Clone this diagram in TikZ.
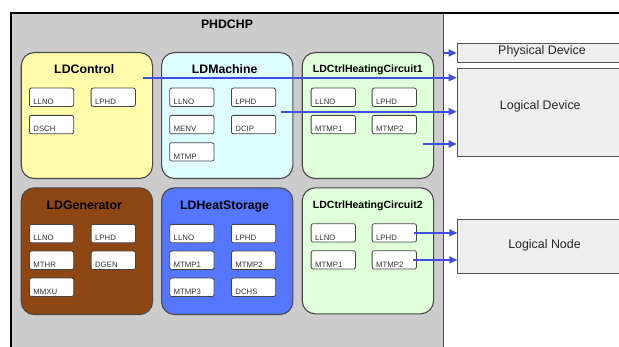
\documentclass[tikz,border=0pt]{standalone}
\usepackage{fontspec}
\setmainfont{Liberation Sans}
\usetikzlibrary{arrows.meta,calc}
\definecolor{bggray}{HTML}{CCCCCC}
\definecolor{cborder}{HTML}{4A4A4A}
\definecolor{sborder}{HTML}{444444}
\definecolor{stext}{HTML}{333333}
\definecolor{cyellow}{HTML}{FFFCAA}
\definecolor{ccyan}{HTML}{DDFDFF}
\definecolor{cgreen}{HTML}{DFFFD9}
\definecolor{cbrown}{HTML}{8E4612}
\definecolor{cblue}{HTML}{5577FF}
\definecolor{rfill}{HTML}{EEEEEE}
\definecolor{rborder}{HTML}{555555}
\definecolor{arrowblue}{HTML}{3F4FE6}
\begin{document}
\begin{tikzpicture}[x=1pt,y=-1pt,
  cont/.style={anchor=north west, draw=cborder, line width=1.1pt, rounded corners=13pt,
    minimum width=131.3pt, minimum height=126pt, inner sep=0pt},
  ctitle/.style={anchor=base, font=\fontsize{12.3}{14}\selectfont\bfseries},
  cstitle/.style={anchor=base, font=\fontsize{10.5}{12}\selectfont\bfseries},
  small/.style={anchor=north west, draw=sborder, line width=0.8pt, fill=white,
    rounded corners=2pt, inner xsep=4pt, inner ysep=0pt, text width=36.3pt, align=left,
    text height=16.4pt, text depth=2pt, text=stext, font=\fontsize{7.8}{8}\selectfont},
  rbox/.style={anchor=north west, draw=rborder, line width=1pt, fill=rfill,
    inner sep=0pt, minimum width=180pt},
  rtext/.style={anchor=base, text=black!85, font=\fontsize{12.4}{14}\selectfont},
  arr/.style={-{Triangle[length=8pt,width=7pt]}, color=arrowblue, line width=1.7pt}
]
\useasboundingbox (0,0) rectangle (619,347);
\begin{scope}
\clip (0,0) rectangle (619,347);
% outer PHDCHP box
\node[anchor=north west, fill=bggray, draw=cborder, line width=1.2pt,
  minimum width=432pt, minimum height=360pt, inner sep=0pt] (phd) at (11,13) {};
\coordinate (topright) at (625,13);
\draw[line width=2pt, black] (phd.south west) -- (phd.north west) -- (topright);
\node[ctitle] (phdt) at (227,28.3) {PHDCHP};

% containers
\node[cont, fill=cyellow] (ca) at (20.7,52) {};
\node[cont, fill=ccyan] (cb) at (161,52) {};
\node[cont, fill=cgreen] (cc) at (301.7,52) {};
\node[cont, fill=cbrown, minimum height=126.7pt] (cd) at (20.7,187.3) {};
\node[cont, fill=cblue, minimum height=126.7pt] (ce) at (161,187.3) {};
\node[cont, fill=cgreen, minimum height=126pt] (cf) at (301.7,187.3) {};

\node[ctitle] (cat) at (84.3,74) {LDControl};
\node[ctitle] (cbt) at (224.7,74) {LDMachine};
\node[cstitle] (cct) at (367.8,73) {LDCtrlHeatingCircuit1};
\node[ctitle] (cdt) at (84.3,209.3) {LDGenerator};
\node[ctitle] (cet) at (224.6,209.3) {LDHeatStorage};
\node[cstitle] (cft) at (367.8,208.3) {LDCtrlHeatingCircuit2};

% small boxes
\node[small] (a1) at (29,87.7) {LLNO};
\node[small] (a2) at (90.7,87.7) {LPHD};
\node[small] (a3) at (29,115) {DSCH};

\node[small] (b1) at (169.3,87.7) {LLNO};
\node[small] (b2) at (231,87.7) {LPHD};
\node[small] (b3) at (169.3,115) {MENV};
\node[small] (b4) at (231,115) {DCIP};
\node[small] (b5) at (169.3,142.3) {MTMP};

\node[small] (c1) at (310.7,87.7) {LLNO};
\node[small] (c2) at (371.7,87.7) {LPHD};
\node[small] (c3) at (310.7,115) {MTMP1};
\node[small] (c4) at (371.7,115) {MTMP2};

\node[small] (d1) at (29,224) {LLNO};
\node[small] (d2) at (90.7,224) {LPHD};
\node[small] (d3) at (29,250.7) {MTHR};
\node[small] (d4) at (90.7,250.7) {DGEN};
\node[small] (d5) at (29,277.7) {MMXU};

\node[small] (e1) at (169.3,224) {LLNO};
\node[small] (e2) at (231,224) {LPHD};
\node[small] (e3) at (169.3,250.7) {MTMP1};
\node[small] (e4) at (231,250.7) {MTMP2};
\node[small] (e5) at (169.3,277.7) {MTMP3};
\node[small] (e6) at (231,277.7) {DCHS};

\node[small] (f1) at (310.7,223.3) {LLNO};
\node[small] (f2) at (371.7,223.3) {LPHD};
\node[small] (f3) at (310.7,250.3) {MTMP1};
\node[small] (f4) at (371.7,250.3) {MTMP2};

% right side boxes
\node[rbox, minimum height=19.6pt] (pd) at (456.7,42.7) {};
\node[rbox, minimum height=88pt] (ld) at (456.7,67.7) {};
\node[rbox, minimum height=54pt] (ln) at (457.3,219.3) {};
\node[rtext] (pdt) at (542,54.6) {Physical Device};
\node[rtext] (ldt) at (540.3,109.6) {Logical Device};
\node[rtext] (lnt) at (544.5,248.3) {Logical Node};

% arrows
\coordinate (s2) at (143.3,77.7);
\coordinate (s3) at (281,111.7);
\coordinate (s4) at (422.7,144);
\draw[arr] (phd.east |- pd.west) -- (pd.west);
\draw[arr] (s2) -- (s2 -| ld.west);
\draw[arr] (s3) -- (s3 -| ld.west);
\draw[arr] (s4) -- (s4 -| ld.west);
\draw[arr] ([xshift=-3pt]f2.east) -- (f2.east -| ln.west);
\draw[arr] ([xshift=-3.5pt]f4.east) -- (f4.east -| ln.west);
\end{scope}
\end{tikzpicture}
\end{document}
